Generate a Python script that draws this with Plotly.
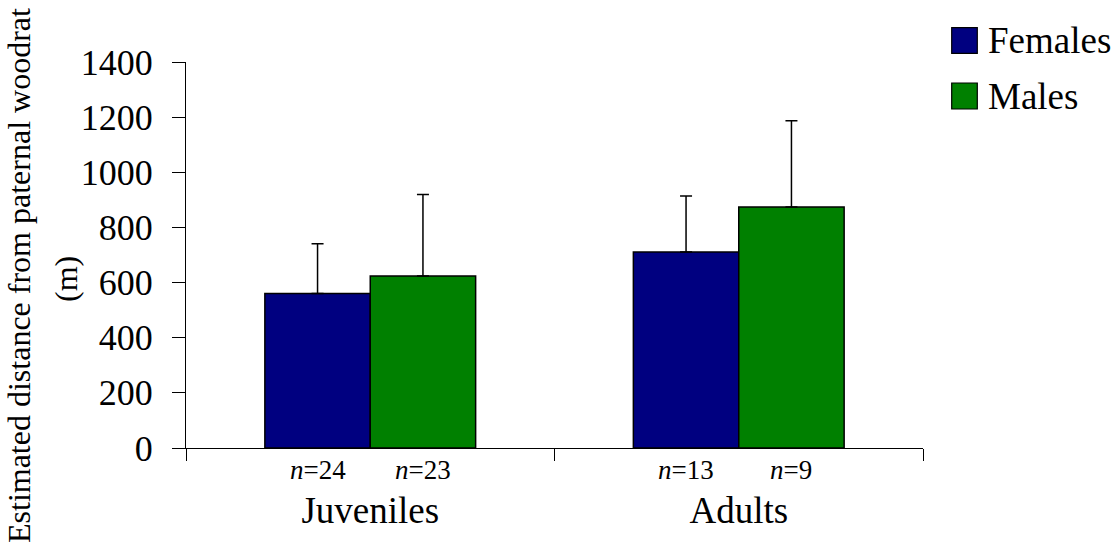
import plotly.graph_objects as go

# Mean estimated dispersal distance (m) from the paternal woodrat
groups = ["Juveniles", "Adults"]
female_mean = [560, 711]
male_mean = [624, 874]
female_err = [181, 203]
male_err = [295, 313]
female_n = [24, 13]
male_n = [23, 9]
y_ticks = [0, 200, 400, 600, 800, 1000, 1200, 1400]

FONT = "Liberation Serif"
NAVY = "#000080"
GREEN = "#008000"

W, H = 1120, 550
ML, MR, MT, MB = 186, 197, 62, 101.5
BARGAP = 0.428

fig = go.Figure()
fig.add_trace(go.Bar(
    name="Females", x=groups, y=female_mean,
    marker=dict(color=NAVY, line=dict(color="black", width=1.5)),
    error_y=dict(type="data", symmetric=False, array=female_err,
                 arrayminus=[0] * len(female_err),
                 color="black", thickness=1.5, width=6),
))
fig.add_trace(go.Bar(
    name="Males", x=groups, y=male_mean,
    marker=dict(color=GREEN, line=dict(color="black", width=1.5)),
    error_y=dict(type="data", symmetric=False, array=male_err,
                 arrayminus=[0] * len(male_err),
                 color="black", thickness=1.5, width=6),
))

# sample sizes under each bar
cat_px = (W - ML - MR) / len(groups)
half_bar = cat_px * (1 - BARGAP) / 4
annotations = []
for g, nf, nm in zip(groups, female_n, male_n):
    for n, sign in ((nf, -1), (nm, 1)):
        annotations.append(dict(
            x=g, xref="x", y=0, yref="y", yanchor="middle",
            xshift=sign * half_bar, yshift=-22,
            text=f"<i>n</i>={n}", showarrow=False,
            font=dict(family=FONT, size=27, color="black"),
        ))

# axis title, two lines
annotations.append(dict(
    x=0, xref="paper", y=0.5, yref="paper", xanchor="center", yanchor="middle",
    xshift=-167, yshift=-21,
    text="Estimated distance from paternal woodrat", textangle=-90,
    showarrow=False, font=dict(family=FONT, size=32, color="black"),
))
annotations.append(dict(
    x=0, xref="paper", y=0.5, yref="paper", xanchor="center", yanchor="middle",
    xshift=-120, yshift=-24,
    text="(m)", textangle=-90,
    showarrow=False, font=dict(family=FONT, size=32, color="black"),
))

# legend with large swatches
shapes = []
for label, color, y0, y1 in (("Females", NAVY, 8.7, 34.3), ("Males", GREEN, -47, -21)):
    shapes.append(dict(
        type="rect", xref="paper", yref="paper",
        xsizemode="pixel", ysizemode="pixel", xanchor=1, yanchor=1,
        x0=28.7, x1=54.3, y0=y0, y1=y1,
        fillcolor=color, line=dict(color="black", width=1.2),
    ))
    annotations.append(dict(
        x=1, xref="paper", y=1, yref="paper", xanchor="left", yanchor="middle",
        xshift=63, yshift=(y0 + y1) / 2,
        text=label, showarrow=False,
        font=dict(family=FONT, size=37, color="black"),
    ))

fig.update_layout(
    width=W, height=H,
    margin=dict(l=ML, r=MR, t=MT, b=MB, pad=0),
    barmode="group", bargap=BARGAP, bargroupgap=0,
    plot_bgcolor="white", paper_bgcolor="white",
    showlegend=False,
    annotations=annotations, shapes=shapes,
    font=dict(family=FONT, color="black"),
)
fig.update_xaxes(
    type="category", showline=True, linecolor="black", linewidth=1,
    ticks="outside", tickson="boundaries", ticklen=12, tickcolor="black",
    tickwidth=1, showgrid=False, zeroline=False,
    tickfont=dict(family=FONT, size=37, color="black"),
    ticklabelstandoff=30,
)
fig.update_yaxes(
    range=[0, 1400], tickvals=y_ticks, showline=True, linecolor="black",
    linewidth=1, ticks="outside", ticklen=13, tickcolor="black", tickwidth=1,
    showgrid=False, zeroline=False,
    tickfont=dict(family=FONT, size=36, color="black"),
    ticklabelstandoff=12,
)

fig.write_html("out.html")
